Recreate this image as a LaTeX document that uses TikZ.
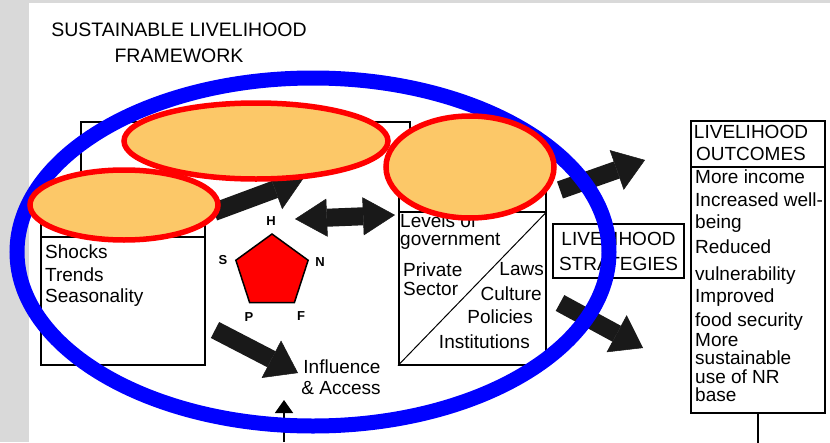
\documentclass[tikz,border=0pt]{standalone}
\usepackage{fontspec}
\setmainfont{Liberation Sans}
\usetikzlibrary{arrows.meta,shapes.geometric}

\definecolor{bggray}{HTML}{D9D9D9}
\definecolor{ringblue}{HTML}{0000FF}
\definecolor{blobfill}{HTML}{FCC868}

\tikzset{
 box/.style={draw, line width=1.5pt, inner sep=0pt},
 txt/.style={inner sep=0pt, font=\fontsize{19}{21}\selectfont},
 lbl/.style={inner sep=0pt, font=\fontsize{13}{13}\selectfont\bfseries},
 blockarrow/.style={line width=18pt, black!90, -{Triangle[length=30pt,width=42pt,line width=0.5pt]}},
 dblarrow/.style={line width=18pt, black!90, {Triangle[length=32pt,width=38pt,line width=0.5pt]}-{Triangle[length=32pt,width=38pt,line width=0.5pt]}},
 blob/.style={draw=red, line width=5.5pt, fill=blobfill},
}

\begin{document}
\begin{tikzpicture}[x=1pt,y=-1pt]
 \useasboundingbox (0,0) rectangle (830,442);
 \fill[bggray] (0,0) rectangle (830,442);
 \fill[white] (29,3) rectangle (830,442);

 % title
 \node[txt, anchor=base, font=\fontsize{19.5}{21}\selectfont] (title1) at (179,36) {SUSTAINABLE LIVELIHOOD};
 \node[txt, anchor=base, font=\fontsize{19.5}{21}\selectfont] (title2) at (179,62) {FRAMEWORK};

 % boxes
 \node[box, anchor=north west, minimum width=164pt, minimum height=174pt] (vul) at (40,190) {};
 \draw[box] ([yshift=-47pt]vul.north west) -- ([yshift=-47pt]vul.north east);
 \foreach \y/\t [count=\i] in {258/Shocks, 281/Trends, 302/Seasonality}
  \node[txt, anchor=base west] (vul\i) at (45,\y) {\t};

 \node[box, anchor=north west, minimum width=147pt, minimum height=184pt] (trans) at (398,180) {};
 \draw[box] ([yshift=-32pt]trans.north west) -- ([yshift=-32pt]trans.north east);
 \draw[line width=1pt] (trans.south west) -- ([yshift=-32pt]trans.north east);
 \node[txt, anchor=base west] (lev1) at (400,227) {Levels of};
 \node[txt, anchor=base west] (lev2) at (400,245) {government};
 \node[txt, anchor=base west] (priv1) at (403,276) {Private};
 \node[txt, anchor=base west] (priv2) at (403,295) {Sector};
 \node[txt, anchor=base east] (laws) at (544,275) {Laws};
 \node[txt, anchor=base east] (cult) at (542,300) {Culture};
 \node[txt, anchor=base east] (pol) at (533,323) {Policies};
 \node[txt, anchor=base east] (inst) at (530,348) {Institutions};

 \node[box, txt, align=center, minimum width=131pt, minimum height=54pt,
  font=\fontsize{19}{25}\selectfont] (strat) at (618.5,251) {LIVELIHOOD\\STRATEGIES};

 \node[box, anchor=north west, minimum width=134pt, minimum height=292pt] (out) at (690,120) {};
 \draw[box] ([yshift=-47pt]out.north west) -- ([yshift=-47pt]out.north east);
 \node[txt, anchor=base] (outhead1) at (751,138) {LIVELIHOOD};
 \node[txt, anchor=base] (outhead2) at (751,160) {OUTCOMES};
 \foreach \y/\t [count=\i] in {183/More income, 206/Increased well-, 228/being,
  253/Reduced, 280/vulnerability, 302/Improved, 326/food security, 346/More,
  364/sustainable, 383/use of NR, 401/base}
  \node[txt, anchor=base west] (oc\i) at (695,\y) {\t};
 \draw[line width=1.5pt] (out.south) -- ++(0,30);

 % assets
 \node[regular polygon, regular polygon sides=5, minimum size=76pt, inner sep=0pt,
  draw, line width=1.5pt, fill=red] (assets) at (272,272) {};
 \node[lbl] (h) at (271,221) {H};
 \node[lbl] (n) at (320,262) {N};
 \node[lbl] (s) at (223,260) {S};
 \node[lbl] (p) at (249,317) {P};
 \node[lbl] (f) at (301,316) {F};
 \node[txt, anchor=base] (infl1) at (342,373) {Influence};
 \node[txt, anchor=base] (infl2) at (341,394) {\& Access};

 % connectors
 \coordinate (framecorner) at (410,140);
 \draw[line width=1.5pt, -{Triangle[length=12pt,width=18pt]}]
  (framecorner) |- (81,122) -- ([xshift=41pt]vul.north west);
 \coordinate (a1s) at (214,212); \coordinate (a1e) at (303,179);
 \coordinate (a2s) at (295,219); \coordinate (a2e) at (395,215);
 \coordinate (a3s) at (560,190); \coordinate (a3e) at (645,160);
 \coordinate (a4s) at (560,303); \coordinate (a4e) at (643,348);
 \coordinate (a5s) at (215,330); \coordinate (a5e) at (298,373);
 \draw[blockarrow] (a1s) -- (a1e);
 \draw[dblarrow] (a2s) -- (a2e);
 \draw[blockarrow] (a3s) -- (a3e);
 \draw[blockarrow] (a4s) -- (a4e);
 \draw[blockarrow] (a5s) -- (a5e);
 \coordinate (below) at (284,442); \coordinate (up) at (284,400);
 \draw[line width=1.5pt, -{Triangle[length=13pt,width=18pt]}] (below) -- (up);

 % marks
 \draw[ringblue, line width=15pt] (313,252) ellipse [x radius=296pt, y radius=174pt];
 \draw[blob] (256,141) ellipse [x radius=132pt, y radius=38pt];
 \draw[blob] (470,167) ellipse [x radius=84pt, y radius=51pt];
 \draw[blob] (124,205) ellipse [x radius=94pt, y radius=35pt];
\end{tikzpicture}
\end{document}
